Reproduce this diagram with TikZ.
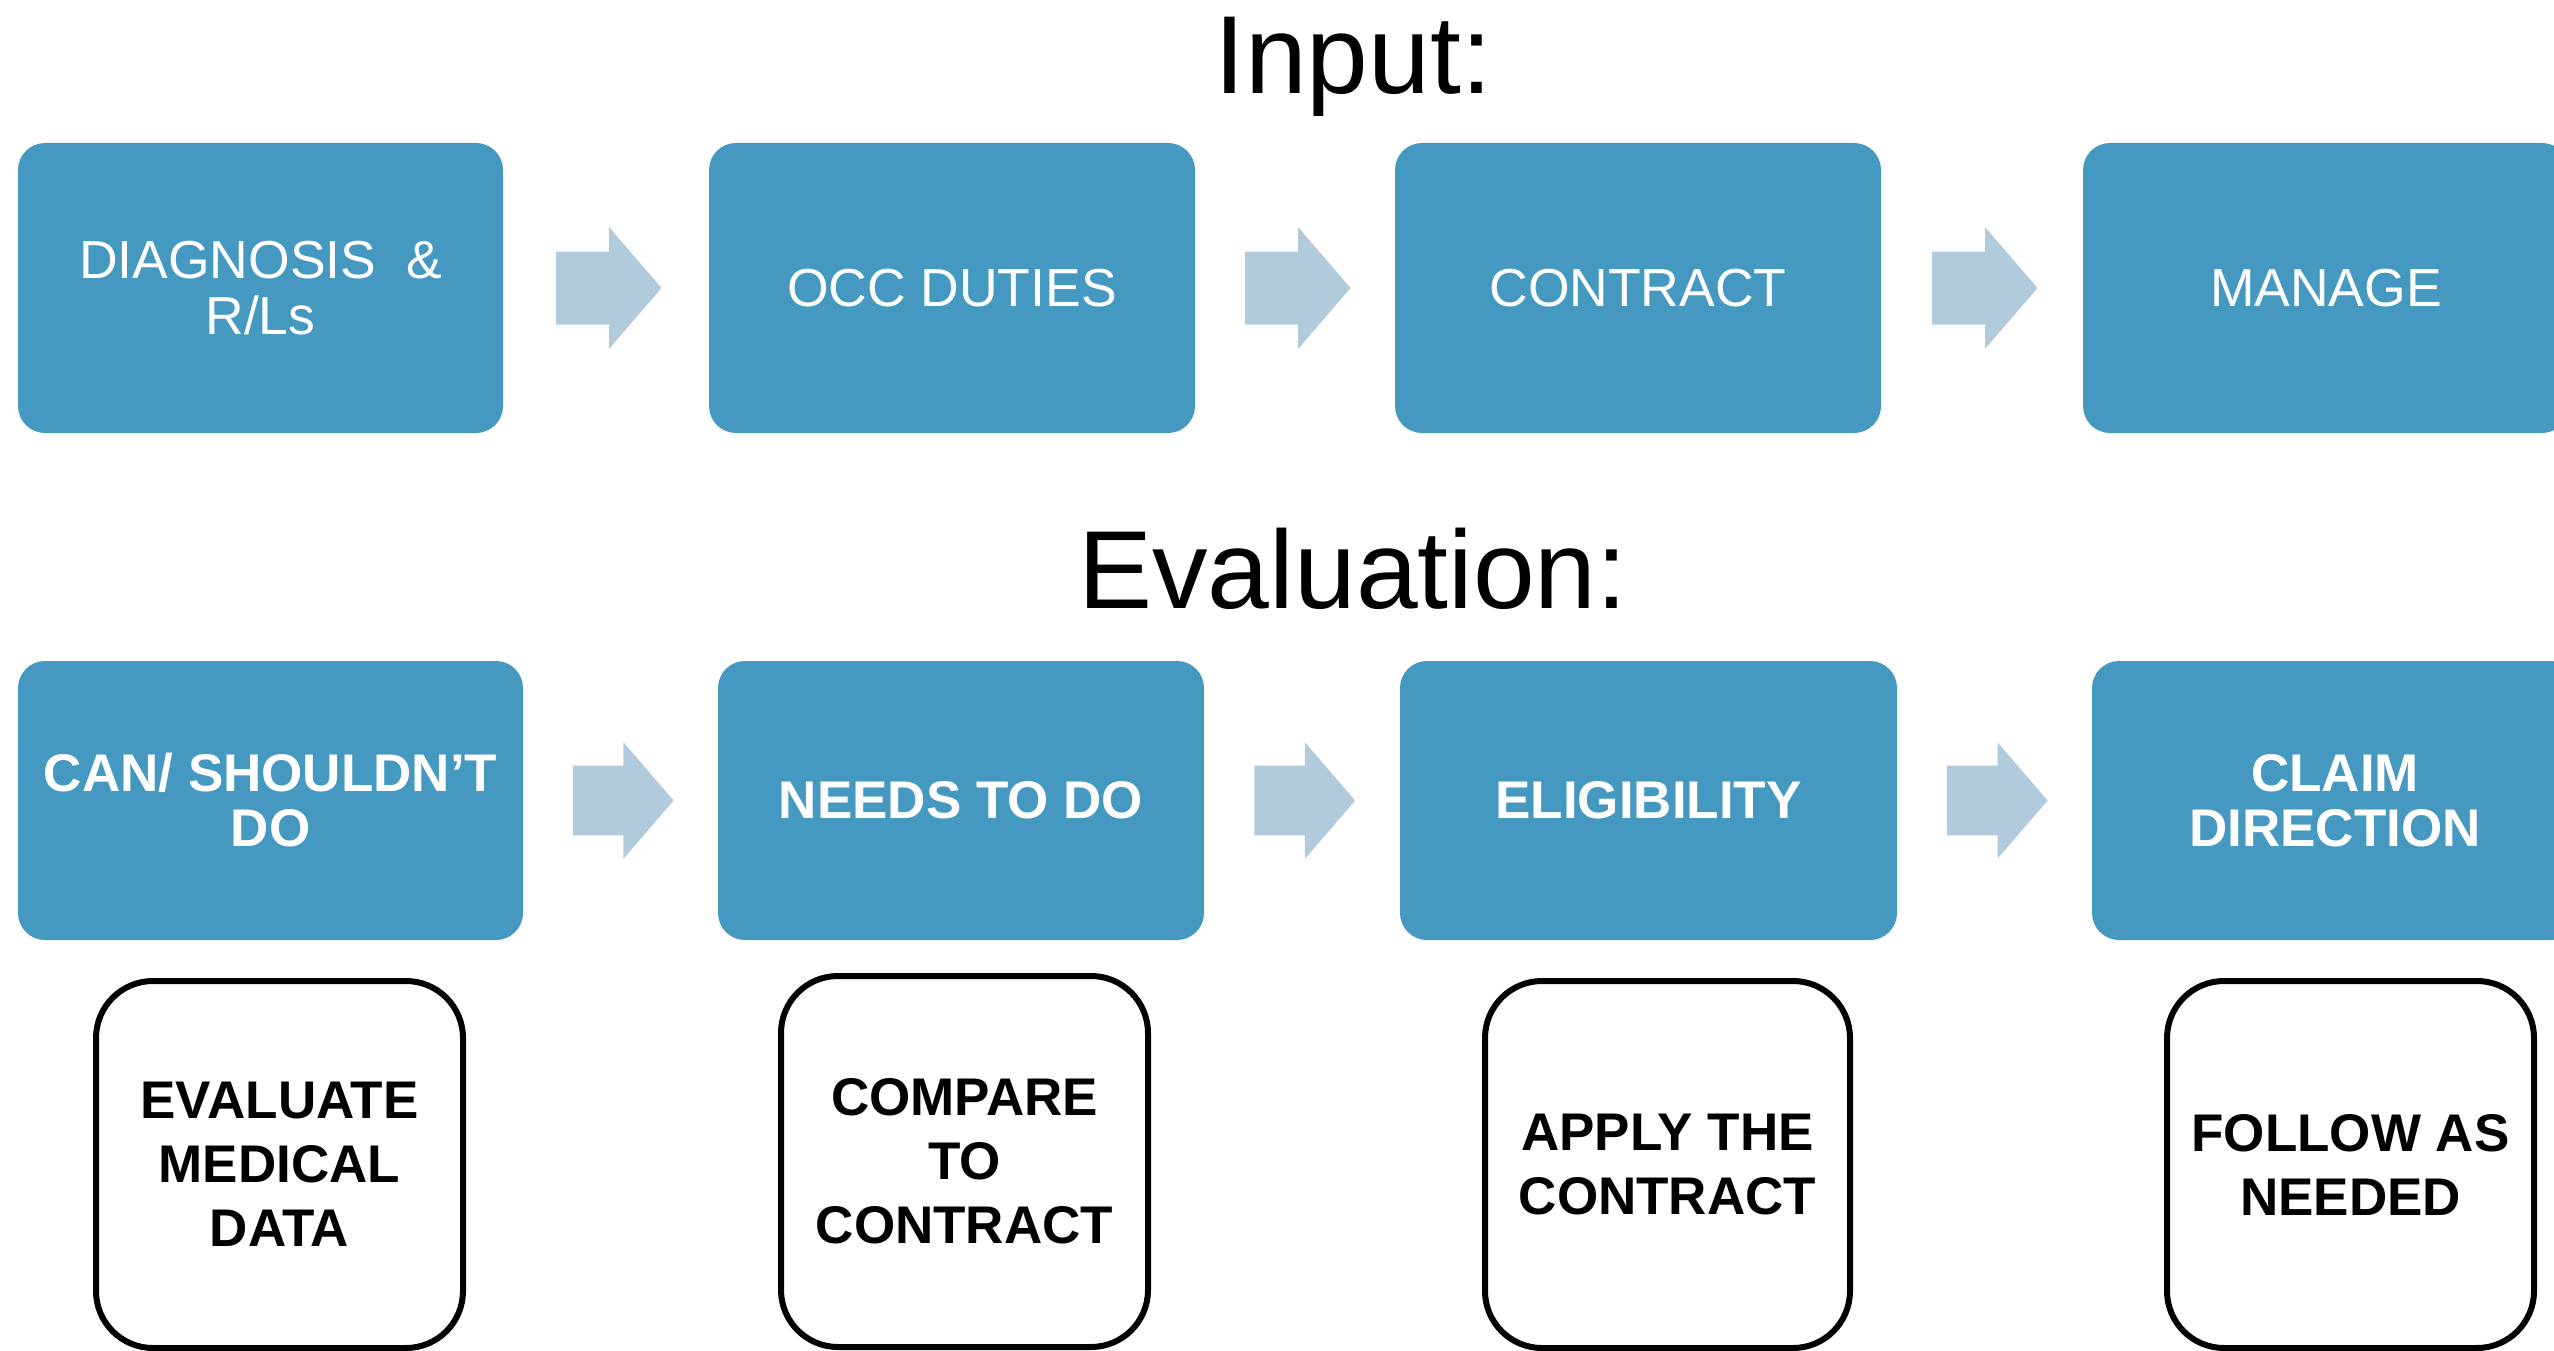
\documentclass[tikz,border=0pt]{standalone}
\usepackage{fontspec}
\setmainfont{Liberation Sans}
\usetikzlibrary{calc}
\definecolor{boxblue}{RGB}{69,153,192}
\definecolor{arrowblue}{RGB}{178,203,220}
\tikzset{
 bluebox/.style={rectangle, rounded corners=27pt, fill=boxblue, text=white, align=center, inner sep=0pt},
 topbox/.style={bluebox, minimum height=290pt, font=\fontsize{53.5}{56}\selectfont},
 botbox/.style={bluebox, minimum height=279pt, font=\bfseries\fontsize{53}{55}\selectfont},
 notebox/.style={rectangle, rounded corners=57pt, draw=black, line width=6pt, fill=white, align=center, inner sep=0pt, minimum width=367pt, font=\bfseries\fontsize{53}{64}\selectfont},
 titletext/.style={anchor=base, font=\fontsize{111}{120}\selectfont},
 blockarrow/.pic={\fill[arrowblue] (-52.5,-36.5) -- (0.5,-36.5) -- (0.5,-61) -- (53,0) -- (0.5,61) -- (0.5,36.5) -- (-52.5,36.5) -- cycle;}
}
\begin{document}
\begin{tikzpicture}[x=1pt,y=-1pt]
\useasboundingbox (0,0) rectangle (2554,1351);
\clip (0,0) rectangle (2554,1351);
\fill[white] (0,0) rectangle (2554,1351);

% titles
\node[titletext] (tin) at (1353,94) {Input:};
\node[titletext] (tev) at (1353,608) {Evaluation:};

% top row
\node[topbox, minimum width=485pt] (t1) at (260.5,288) {DIAGNOSIS~ \&\\R/Ls};
\node[topbox, minimum width=486pt] (t2) at (952,288) {OCC DUTIES};
\node[topbox, minimum width=486pt] (t3) at (1638,288) {CONTRACT};
\node[topbox, minimum width=486pt] (t4) at (2326,288) {MANAGE};

\pic at ($(t1.east)!0.5!(t2.west)+(2.5,0)$) {blockarrow};
\pic at ($(t2.east)!0.5!(t3.west)+(2.5,0)$) {blockarrow};
\pic at ($(t3.east)!0.5!(t4.west)+(2.5,0)$) {blockarrow};

% bottom row
\node[botbox, minimum width=505pt] (b1) at (270.5,800.5) {CAN/ SHOULDN’T\\DO};
\node[botbox, minimum width=486pt] (b2) at (961,800.5) {NEEDS TO DO};
\node[botbox, minimum width=497pt] (b3) at (1648.5,800.5) {ELIGIBILITY};
\node[botbox, minimum width=486pt] (b4) at (2335,800.5) {CLAIM\\DIRECTION};

\pic[scale=0.955] at ($(b1.east)!0.5!(b2.west)+(2.5,0)$) {blockarrow};
\pic[scale=0.955] at ($(b2.east)!0.5!(b3.west)+(2.5,0)$) {blockarrow};
\pic[scale=0.955] at ($(b3.east)!0.5!(b4.west)+(2.5,0)$) {blockarrow};

% note boxes
\node[notebox, minimum height=367pt] (n1) at (279.5,1164.5) {EVALUATE\\MEDICAL\\DATA};
\node[notebox, minimum height=371pt] (n2) at (964.5,1161.5) {COMPARE\\TO\\CONTRACT};
\node[notebox, minimum height=367pt, minimum width=365pt] (n3) at (1667.5,1164.5) {APPLY THE\\CONTRACT};
\node[notebox, minimum height=367pt] (n4) at (2350.5,1164.5) {FOLLOW AS\\NEEDED};
\end{tikzpicture}
\end{document}
